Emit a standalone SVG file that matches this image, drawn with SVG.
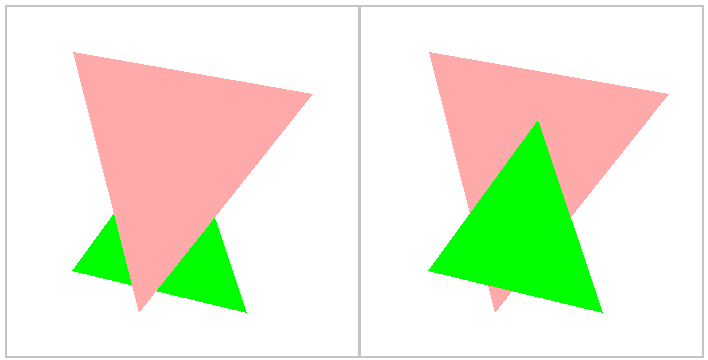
<svg xmlns="http://www.w3.org/2000/svg" width="708" height="360" viewBox="0 0 708 360">
<style>
.frame{fill:#ffffff;stroke:#c4c4c4;stroke-width:2}
.pink{fill:#ffaaaa}
.green{fill:#00ff00}
</style>
<rect x="0" y="0" width="708" height="360" fill="#ffffff"/>
<rect class="frame" x="6" y="6" width="353" height="351"/>
<rect class="frame" x="360" y="6" width="343" height="351"/>
<g id="left-panel" shape-rendering="crispEdges">
  <polygon id="left-green" class="green" points="72,271 182,120 247,313"/>
  <polygon id="left-pink" class="pink" points="73,52 313,94 139,313"/>
</g>
<g id="right-panel" shape-rendering="crispEdges">
  <polygon id="right-pink" class="pink" points="429,52 669,94 495,313"/>
  <polygon id="right-green" class="green" points="428,271 538,120 603,313"/>
</g>
</svg>
